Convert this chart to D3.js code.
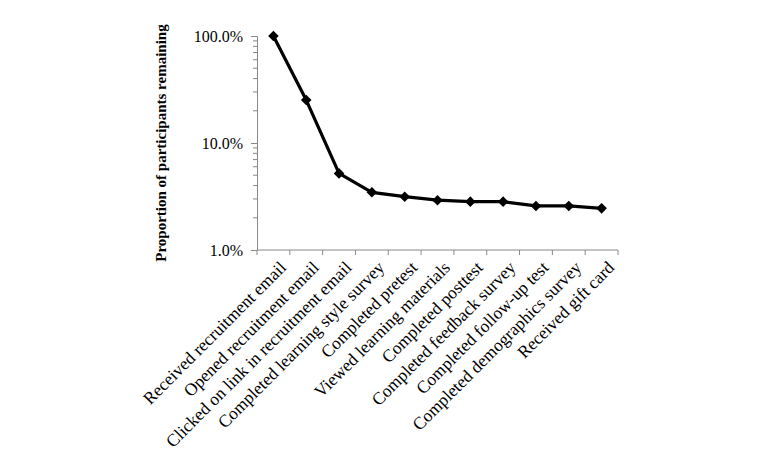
<!DOCTYPE html>
<html>
<head>
<meta charset="utf-8">
<script src="https://cdn.jsdelivr.net/npm/d3@7"></script>
<style>
  body { margin: 0; background: #fff; }
  svg text { font-family: "Liberation Serif", "Times New Roman", serif; fill: #000; }
</style>
</head>
<body>
<svg id="chart"></svg>
<script>
// funnel steps
const steps = [
  'Received recruitment email',
  'Opened recruitment email',
  'Clicked on link in recruitment email',
  'Completed learning style survey',
  'Completed pretest',
  'Viewed learning materials',
  'Completed posttest',
  'Completed feedback survey',
  'Completed follow-up test',
  'Completed demographics survey',
  'Received gift card'
];
// proportion remaining (fraction)
const remaining = [1.0, 0.252, 0.052, 0.0346, 0.0315, 0.0292, 0.0283, 0.0283, 0.0258, 0.0258, 0.0245];
const yTicks = [0.01, 0.1, 1];

const width = 766, height = 474;
const margin = {top: 36, right: 148, bottom: 224, left: 257};
const w = width - margin.left - margin.right;
const h = height - margin.top - margin.bottom;

const svg = d3.select('#chart').attr('width', width).attr('height', height);
const g = svg.append('g').attr('transform', `translate(${margin.left},${margin.top})`);

const x = d3.scaleBand().domain(steps).range([0, w]).padding(0);
const y = d3.scaleLog().domain([0.01, 1]).range([h, 0]);

// minor ticks on log axis
const minor = [];
[0.01, 0.1].forEach(b => { for (let k = 2; k <= 9; k++) minor.push(b * k); });
g.selectAll('.minor').data(minor).join('line')
  .attr('x1', -4).attr('x2', 0)
  .attr('y1', d => y(d)).attr('y2', d => y(d))
  .attr('stroke', '#888').attr('stroke-width', 1);

const yAxis = d3.axisLeft(y).tickValues(yTicks).tickFormat(d3.format('.1%')).tickSizeOuter(0).tickSize(6);
const yAxisG = g.append('g').call(yAxis);
yAxisG.select('.domain').attr('stroke', '#888');
yAxisG.selectAll('.tick line').attr('stroke', '#888');
yAxisG.selectAll('text').attr('font-size', 16).attr('x', -14);

// x axis: ticks at band boundaries
const xAxisG = g.append('g').attr('transform', `translate(0,${h})`);
xAxisG.append('line').attr('x1', 0).attr('x2', w).attr('stroke', '#888');
const bounds = steps.map(s => x(s)).concat([w]);
xAxisG.selectAll('.xt').data(bounds).join('line')
  .attr('x1', d => d).attr('x2', d => d).attr('y1', 0).attr('y2', 5)
  .attr('stroke', '#888');
xAxisG.selectAll('.xl').data(steps).join('text')
  .attr('transform', d => `translate(${x(d) + x.bandwidth() / 2 + 5},${10}) rotate(-45)`)
  .attr('text-anchor', 'end')
  .attr('dy', '0.7em')
  .attr('font-size', 17.5)
  .text(d => d);

// y label
svg.append('text')
  .attr('transform', `translate(166,${margin.top + h / 2}) rotate(-90)`)
  .attr('text-anchor', 'middle')
  .attr('font-size', 15)
  .attr('font-weight', 'bold')
  .text('Proportion of participants remaining');

const line = d3.line()
  .x((d, i) => x(steps[i]) + x.bandwidth() / 2)
  .y(d => y(d));

g.append('path').datum(remaining)
  .attr('d', line)
  .attr('fill', 'none')
  .attr('stroke', '#000')
  .attr('stroke-width', 3.2)
  .attr('stroke-linejoin', 'round');

g.selectAll('.pt').data(remaining).join('path')
  .attr('d', d3.symbol(d3.symbolSquare, 56))
  .attr('transform', (d, i) => `translate(${x(steps[i]) + x.bandwidth() / 2},${y(d)}) rotate(45)`)
  .attr('fill', '#000');
</script>
</body>
</html>
